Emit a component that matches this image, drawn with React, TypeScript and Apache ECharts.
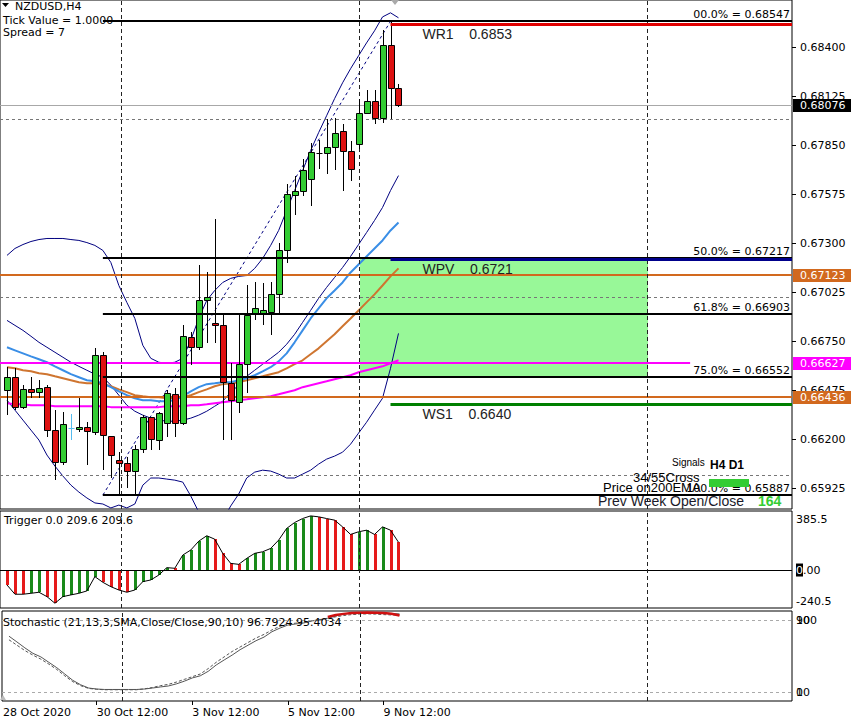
import React, { useEffect, useRef } from "react";
import * as echarts from "echarts";

// ---------------- data ----------------
const opens = [0.66476,0.66549,0.66381,0.66481,0.66465,0.66493,0.66252,0.66072,0.66263,0.66257,0.66268,0.66240,0.66672,0.66218,0.66084,0.66067,0.66022,0.66145,0.66325,0.66196,0.66290,0.66453,0.66291,0.66773,0.66717,0.66980,0.66851,0.66840,0.66515,0.66409,0.66622,0.66902,0.66902,0.66913,0.67014,0.67266,0.67574,0.67597,0.67664,0.67810,0.67810,0.67844,0.67933,0.67821,0.67860,0.68034,0.68101,0.68006,0.68415,0.68174];
const highs = [0.66605,0.66599,0.66504,0.66549,0.66532,0.66504,0.66364,0.66353,0.66341,0.66431,0.66297,0.66711,0.66689,0.66218,0.66128,0.66100,0.66168,0.66336,0.66325,0.66353,0.66476,0.66487,0.66840,0.66801,0.67177,0.67137,0.67440,0.66908,0.66627,0.66896,0.67064,0.67081,0.67076,0.67081,0.67305,0.67636,0.67681,0.67776,0.67866,0.67883,0.68000,0.68006,0.67972,0.67877,0.68113,0.68163,0.68163,0.68499,0.68547,0.68197];
const lows = [0.66336,0.66364,0.66369,0.66431,0.66431,0.66212,0.65971,0.66056,0.66196,0.66240,0.66056,0.66224,0.66027,0.65983,0.65887,0.65927,0.65890,0.66123,0.66140,0.66140,0.66212,0.66212,0.66280,0.66616,0.66700,0.66739,0.66739,0.66196,0.66196,0.66347,0.66459,0.66868,0.66840,0.66784,0.66908,0.67193,0.67457,0.67569,0.67513,0.67720,0.67692,0.67715,0.67597,0.67653,0.67832,0.68028,0.67972,0.67978,0.68000,0.68068];
const closes = [0.66549,0.66381,0.66481,0.66465,0.66487,0.66252,0.66072,0.66285,0.66263,0.66268,0.66246,0.66672,0.66224,0.66112,0.66067,0.66022,0.66145,0.66325,0.66201,0.66347,0.66459,0.66291,0.66779,0.66717,0.66980,0.66997,0.66840,0.66521,0.66420,0.66622,0.66896,0.66935,0.66924,0.67014,0.67266,0.67580,0.67597,0.67710,0.67816,0.67810,0.67844,0.67922,0.67821,0.67720,0.68034,0.68101,0.68006,0.68415,0.68174,0.68076];
const cyanDoji = [8];

const bbUpper = [0.67233,0.67272,0.67294,0.67311,0.67322,0.67328,0.67328,0.67328,0.67322,0.67317,0.67305,0.67289,0.67261,0.67193,0.67064,0.66969,0.66879,0.66728,0.66655,0.66633,0.66627,0.66633,0.66655,0.66756,0.66879,0.66980,0.67036,0.67081,0.67104,0.67115,0.67120,0.67160,0.67216,0.67289,0.67373,0.67485,0.67597,0.67709,0.67821,0.67922,0.68017,0.68113,0.68202,0.68281,0.68354,0.68426,0.68494,0.68572,0.68595,0.68567];
const bbMiddle = [0.66868,0.66840,0.66812,0.66779,0.66745,0.66717,0.66689,0.66661,0.66633,0.66610,0.66588,0.66566,0.66549,0.66504,0.66448,0.66392,0.66358,0.66336,0.66319,0.66308,0.66302,0.66302,0.66308,0.66319,0.66336,0.66358,0.66386,0.66414,0.66465,0.66504,0.66554,0.66588,0.66622,0.66655,0.66689,0.66734,0.66790,0.66857,0.66924,0.66992,0.67053,0.67109,0.67165,0.67227,0.67294,0.67361,0.67429,0.67502,0.67597,0.67681];
const bbLower = [0.66420,0.66364,0.66308,0.66252,0.66196,0.66112,0.66050,0.65994,0.65943,0.65904,0.65871,0.65843,0.65837,0.65815,0.65831,0.65815,0.65837,0.65943,0.65983,0.65983,0.65977,0.65971,0.65960,0.65882,0.65792,0.65747,0.65736,0.65747,0.65826,0.65893,0.65983,0.66016,0.66027,0.66022,0.66005,0.65983,0.65983,0.66005,0.66027,0.66061,0.66089,0.66106,0.66128,0.66173,0.66235,0.66296,0.66364,0.66431,0.66599,0.66795];

const maBlue = [0.66717,0.66700,0.66683,0.66666,0.66650,0.66633,0.66610,0.66588,0.66566,0.66549,0.66532,0.66526,0.66515,0.66493,0.66470,0.66448,0.66431,0.66420,0.66420,0.66414,0.66414,0.66420,0.66442,0.66470,0.66493,0.66510,0.66515,0.66521,0.66521,0.66532,0.66543,0.66560,0.66582,0.66605,0.66638,0.66683,0.66745,0.66812,0.66879,0.66935,0.66992,0.67036,0.67081,0.67137,0.67182,0.67227,0.67272,0.67317,0.67373,0.67418];
const maOrange = [0.66605,0.66599,0.66588,0.66582,0.66571,0.66566,0.66554,0.66543,0.66532,0.66521,0.66515,0.66515,0.66510,0.66498,0.66481,0.66465,0.66448,0.66442,0.66437,0.66437,0.66431,0.66431,0.66437,0.66448,0.66465,0.66481,0.66498,0.66510,0.66515,0.66521,0.66532,0.66543,0.66554,0.66566,0.66577,0.66599,0.66622,0.66644,0.66678,0.66711,0.66751,0.66790,0.66835,0.66879,0.66924,0.66969,0.67014,0.67064,0.67115,0.67160];
const maMagenta = [0.66403,0.66397,0.66397,0.66392,0.66392,0.66392,0.66386,0.66386,0.66386,0.66386,0.66386,0.66386,0.66386,0.66381,0.66381,0.66381,0.66381,0.66381,0.66381,0.66381,0.66386,0.66386,0.66386,0.66392,0.66392,0.66397,0.66403,0.66409,0.66414,0.66420,0.66425,0.66431,0.66437,0.66442,0.66453,0.66465,0.66476,0.66493,0.66504,0.66515,0.66526,0.66538,0.66549,0.66560,0.66577,0.66588,0.66599,0.66610,0.66627,0.66644];

const fibNames = ["00.0%", "50.0%", "61.8%", "75.0%", "100.0%"];
const fibLevels = [0.68547, 0.67217, 0.66903, 0.66552, 0.65887];
const fibStartIdx = 12;
const fibEndIdx = 48;

const pivotNames = ["WR1", "WPV", "WS1"];
const pivotValues = [0.6853, 0.6721, 0.664];
const pivotStartIdx = 48;

const hLineValues = [0.68076, 0.67123, 0.66627, 0.66436];
const hLineStart = [-0.875, -0.875, -0.875, -0.875];
const hLineEnd = [98.25, 98.25, 85.5, 98.25];

const zone = { start: 44.125, end: 80.125, top: 0.6722, bottom: 0.6655 };
const separators = [14.25, 44.125, 80.125];
const gridLevels = [0.66, 0.67, 0.68];

const priceTicks = [0.65925, 0.662, 0.66475, 0.6675, 0.67025, 0.673, 0.67575, 0.6785, 0.68125, 0.684];
const timeLabels = ["28 Oct 2020", "30 Oct 12:00", "3 Nov 12:00", "5 Nov 12:00", "9 Nov 12:00"];
const timeLabelPos = [-0.75, 11, 23, 35, 47];

const triggerValues = [-113,-183,-183,-176,-168,-201,-251,-201,-188,-176,-158,-50,-93,-126,-151,-168,-151,-88,-75,-38,18,13,113,151,218,259,233,126,50,43,88,126,138,163,226,314,359,389,409,402,389,377,326,269,289,301,269,326,301,210];
const triggerColors = ["r","r","r","g","g","r","r","g","g","g","g","g","r","r","r","r","g","g","g","g","g","r","g","g","g","g","r","r","r","r","g","g","g","g","g","g","g","g","g","r","r","r","r","r","g","g","r","g","r","r"];
const triggerTicks = [385.5, 0, -240.5];

const stochMain = [72,65.6,59,53,49,43,37,30,23,18,14.4,13.3,12.8,12.8,12.8,12.8,12.8,13.3,14.4,15.6,16.7,19,22,25.6,28,33,40,45.6,51,57,62,67,71,77,81,84.4,85.6,86.7,89,90,92,94.4,96.7,97.8,98.3,98.3,97.8,97.8,97.2,96.79];
const stochSignal = [68,62,56,51,46.5,41,35,28,21.5,17,14,13,12.5,12.5,12.5,12.5,12.5,13.5,15,17,18.5,21,24,27,30,36,43,49,55,60,65,70,74,79,83,85.5,86.5,87.5,89,90.5,92,93.5,95,96,96.5,96.8,96.5,96,95.6,95.4];
const stochRed = [null,null,null,null,null,null,null,null,null,null,null,null,null,null,null,null,null,null,null,null,null,null,null,null,null,null,null,null,null,null,null,null,null,null,null,null,null,null,null,null,93.5,95.6,96.8,97.8,98.1,98.2,98.1,97.9,97.0,95.0];
const stochLevels = [10, 90];

// ---------------- layout / style constants ----------------
const X_MIN = -0.875;
const X_MAX = 98.25;
const PRICE_MIN = 0.65809;
const PRICE_MAX = 0.68667;
const TRIG_MIN = -287;
const TRIG_MAX = 446;
const AF = "'DejaVu Sans'";
const LF = "'Liberation Sans'";
const GREEN = "#33cc33";
const RED = "#dd1111";
const CYAN = "#55bbee";
const hLineColors = ["#a8a8a8", "#d2691e", "#ff00ff", "#d2691e"];
const hLineWidths = [1, 2, 2, 2];
const hLineBox = ["#000000", "#d2691e", "#ff00ff", "#d2691e"];
const pivotColors = ["#e00000", "#00008b", "#008000"];

function pts(arr: (number | null)[]) {
  return arr.map((v, i) => [i, v]);
}

function buildOption(): any {
  const txt = (text: string, x: number, y: number, font: string, fill = "#000", align = "left") => ({
    type: "text",
    x,
    y,
    z: 100,
    style: { text, font, fill, align, verticalAlign: "middle" },
  });

  const sepLines = separators.map((x) => ({ xAxis: x, lineStyle: { color: "#222", type: [4, 3], width: 1 } }));
  const noLine = { show: false, onZero: false };

  return {
    animation: false,
    backgroundColor: "#ffffff",
    textStyle: { fontFamily: "DejaVu Sans" },
    grid: [
      { left: -1, top: -1, width: 793, height: 510, show: true, borderColor: "#000", borderWidth: 1 },
      { left: -1, top: 511, width: 793, height: 97, show: true, borderColor: "#000", borderWidth: 1 },
      { left: -1, top: 611, width: 793, height: 90, show: true, borderColor: "#000", borderWidth: 1 },
    ],
    xAxis: [
      { gridIndex: 0, type: "value", min: X_MIN, max: X_MAX, show: false, axisLine: noLine },
      { gridIndex: 1, type: "value", min: X_MIN, max: X_MAX, show: false, axisLine: noLine },
      {
        gridIndex: 2,
        type: "value",
        min: X_MIN,
        max: X_MAX,
        position: "bottom",
        axisLine: noLine,
        splitLine: { show: false },
        axisTick: { show: true, customValues: timeLabelPos.slice(1), length: 4, lineStyle: { color: "#000" } },
        axisLabel: {
          customValues: timeLabelPos,
          formatter: (v: number) => {
            const k = timeLabelPos.indexOf(v);
            return k >= 0 ? timeLabels[k] : "";
          },
          align: "left",
          margin: 6,
          fontSize: 11,
          color: "#000",
          fontFamily: "DejaVu Sans",
        },
      },
    ],
    yAxis: [
      {
        gridIndex: 0,
        type: "value",
        position: "right",
        min: PRICE_MIN,
        max: PRICE_MAX,
        axisLine: noLine,
        splitLine: { show: false },
        axisTick: { show: true, customValues: priceTicks, length: 4, lineStyle: { color: "#000" } },
        axisLabel: {
          customValues: priceTicks,
          formatter: (v: number) => v.toFixed(5),
          margin: 8,
          fontSize: 11,
          color: "#000",
          fontFamily: "DejaVu Sans",
        },
      },
      {
        gridIndex: 1,
        type: "value",
        position: "right",
        min: TRIG_MIN,
        max: TRIG_MAX,
        axisLine: noLine,
        splitLine: { show: false },
        axisTick: { show: false },
        axisLabel: {
          customValues: triggerTicks,
          formatter: (v: number) => (v === 0 ? "{b|0}.00" : v.toFixed(1)),
          margin: 4,
          fontSize: 11,
          color: "#000",
          fontFamily: "DejaVu Sans",
          rich: { b: { backgroundColor: "#000", color: "#fff", fontSize: 11, fontFamily: "DejaVu Sans", padding: [1, 0, 1, 0] } },
        },
      },
      {
        gridIndex: 2,
        type: "value",
        position: "right",
        min: 0,
        max: 100,
        axisLine: noLine,
        splitLine: { show: false },
        axisTick: { show: false },
        axisLabel: {
          customValues: stochLevels,
          formatter: (v: number) => String(v),
          margin: 4,
          fontSize: 11,
          color: "#000",
          fontFamily: "DejaVu Sans",
        },
      },
    ],
    series: [
      // green zone rectangle
      {
        type: "custom",
        xAxisIndex: 0,
        yAxisIndex: 0,
        z: 1,
        silent: true,
        data: [[zone.start, zone.end, zone.top, zone.bottom]],
        encode: { x: [0, 1], y: [2, 3] },
        renderItem: (params: any, api: any) => {
          const a = api.coord([api.value(0), api.value(2)]);
          const b = api.coord([api.value(1), api.value(3)]);
          return {
            type: "rect",
            shape: { x: Math.round(a[0]), y: Math.round(a[1]), width: Math.round(b[0] - a[0]), height: Math.round(b[1] - a[1]) },
            style: { fill: "#98f898" },
          };
        },
      },
      // Bollinger bands (with separators + grid levels)
      {
        type: "line",
        xAxisIndex: 0,
        yAxisIndex: 0,
        z: 2,
        silent: true,
        showSymbol: false,
        data: pts(bbUpper),
        lineStyle: { color: "#000080", width: 1 },
        markLine: {
          silent: true,
          symbol: ["none", "none"],
          label: { show: false },
          data: [
            ...sepLines,
            ...gridLevels.map((v) => ({ yAxis: v, lineStyle: { color: "#777", type: [3, 3], width: 1 } })),
          ],
        },
      },
      { type: "line", xAxisIndex: 0, yAxisIndex: 0, z: 2, silent: true, showSymbol: false, data: pts(bbMiddle), lineStyle: { color: "#000080", width: 1 } },
      { type: "line", xAxisIndex: 0, yAxisIndex: 0, z: 2, silent: true, showSymbol: false, data: pts(bbLower), lineStyle: { color: "#000080", width: 1 } },
      // fib trendline (dashed)
      {
        type: "line",
        xAxisIndex: 0,
        yAxisIndex: 0,
        z: 2,
        silent: true,
        showSymbol: false,
        data: [[fibStartIdx, fibLevels[4]], [fibEndIdx, fibLevels[0]]],
        lineStyle: { color: "#000080", width: 1, type: [3, 3] },
      },
      // moving averages
      { type: "line", xAxisIndex: 0, yAxisIndex: 0, z: 3, silent: true, showSymbol: false, data: pts(maMagenta), lineStyle: { color: "#ff00ff", width: 2 } },
      { type: "line", xAxisIndex: 0, yAxisIndex: 0, z: 3, silent: true, showSymbol: false, data: pts(maOrange), lineStyle: { color: "#cf7530", width: 2 } },
      { type: "line", xAxisIndex: 0, yAxisIndex: 0, z: 3, silent: true, showSymbol: false, data: pts(maBlue), lineStyle: { color: "#3a8ee6", width: 2 } },
      // horizontal lines with price boxes
      {
        type: "custom",
        xAxisIndex: 0,
        yAxisIndex: 0,
        z: 4,
        silent: true,
        clip: false,
        data: hLineValues.map((v, i) => [hLineStart[i], hLineEnd[i], v]),
        encode: { x: [0, 1], y: 2 },
        renderItem: (params: any, api: any) => {
          const i = params.dataIndex;
          const v = api.value(2);
          const p1 = api.coord([api.value(0), v]);
          const p2 = api.coord([api.value(1), v]);
          const cs = params.coordSys;
          const right = cs.x + cs.width;
          const w = hLineWidths[i];
          const yr = Math.round(p1[1]);
          const y = w % 2 === 1 ? yr + 0.5 : yr;
          return {
            type: "group",
            children: [
              { type: "line", shape: { x1: Math.max(p1[0], cs.x), y1: y, x2: Math.min(p2[0], right), y2: y }, style: { stroke: hLineColors[i], lineWidth: w } },
              { type: "rect", shape: { x: right + 1, y: yr - 6, width: 58, height: 13 }, style: { fill: hLineBox[i] } },
              { type: "text", x: right + 8, y: yr + 0.5, style: { text: v.toFixed(5), fill: "#fff", font: "11px " + AF, align: "left", verticalAlign: "middle" } },
            ],
          };
        },
      },
      // candles
      {
        type: "custom",
        xAxisIndex: 0,
        yAxisIndex: 0,
        z: 5,
        silent: true,
        data: opens.map((o, i) => [i, o, closes[i], lows[i], highs[i]]),
        encode: { x: 0, y: [1, 2, 3, 4] },
        renderItem: (params: any, api: any) => {
          const i = api.value(0);
          const o = api.value(1);
          const c = api.value(2);
          const pO = api.coord([i, o]);
          const pC = api.coord([i, c]);
          const pL = api.coord([i, api.value(3)]);
          const pH = api.coord([i, api.value(4)]);
          const cx = Math.round(pO[0]) + 0.5;
          const doji = o === c;
          const dojiColor = cyanDoji.indexOf(i) >= 0 ? CYAN : "#000";
          const children: any[] = [
            { type: "line", shape: { x1: cx, y1: Math.round(pH[1]), x2: cx, y2: Math.round(pL[1]) }, style: { stroke: doji ? dojiColor : "#000", lineWidth: 1 } },
          ];
          if (doji) {
            const y = Math.round(pO[1]) + 0.5;
            children.push({ type: "line", shape: { x1: cx - 3, y1: y, x2: cx + 3, y2: y }, style: { stroke: dojiColor, lineWidth: 1 } });
          } else {
            const top = Math.round(Math.min(pO[1], pC[1])) + 0.5;
            const bot = Math.round(Math.max(pO[1], pC[1])) + 0.5;
            children.push({
              type: "rect",
              shape: { x: cx - 3, y: top, width: 6, height: Math.max(bot - top, 1) },
              style: { fill: c > o ? GREEN : RED, stroke: "#000", lineWidth: 1 },
            });
          }
          return { type: "group", children };
        },
      },
      // fibonacci levels
      {
        type: "custom",
        xAxisIndex: 0,
        yAxisIndex: 0,
        z: 6,
        silent: true,
        clip: false,
        data: fibLevels.map((v) => [fibStartIdx, v]),
        encode: { x: 0, y: 1 },
        renderItem: (params: any, api: any) => {
          const i = params.dataIndex;
          const v = api.value(1);
          const p = api.coord([api.value(0), v]);
          const right = params.coordSys.x + params.coordSys.width;
          const y = Math.round(p[1]);
          return {
            type: "group",
            children: [
              { type: "line", shape: { x1: p[0], y1: y, x2: right, y2: y }, style: { stroke: "#000", lineWidth: 2 } },
              { type: "text", x: right - 2, y: y - 7, style: { text: fibNames[i] + " = " + v.toFixed(5), fill: "#000", font: "11px " + AF, align: "right", verticalAlign: "middle" } },
            ],
          };
        },
      },
      // weekly pivots
      {
        type: "custom",
        xAxisIndex: 0,
        yAxisIndex: 0,
        z: 6,
        silent: true,
        clip: false,
        data: pivotValues.map((v) => [pivotStartIdx, v]),
        encode: { x: 0, y: 1 },
        renderItem: (params: any, api: any) => {
          const i = params.dataIndex;
          const v = api.value(1);
          const p = api.coord([api.value(0), v]);
          const right = params.coordSys.x + params.coordSys.width;
          const y = Math.round(p[1]) + 0.5;
          return {
            type: "group",
            children: [
              { type: "line", shape: { x1: p[0], y1: y, x2: right, y2: y }, style: { stroke: pivotColors[i], lineWidth: 3 } },
              { type: "text", x: p[0] + 32, y: y + 9, style: { text: pivotNames[i] + "    " + v.toFixed(4), fill: "#222", font: "14px " + LF, align: "left", verticalAlign: "middle" } },
            ],
          };
        },
      },
      // trigger histogram
      {
        type: "custom",
        xAxisIndex: 1,
        yAxisIndex: 1,
        z: 3,
        silent: true,
        data: pts(triggerValues),
        encode: { x: 0, y: 1 },
        renderItem: (params: any, api: any) => {
          const i = api.value(0);
          const p = api.coord([i, api.value(1)]);
          const z0 = api.coord([i, 0]);
          const cx = Math.round(p[0]);
          const top = Math.round(Math.min(p[1], z0[1]));
          const bot = Math.round(Math.max(p[1], z0[1]));
          return {
            type: "rect",
            shape: { x: cx - 1, y: top, width: 3, height: bot - top },
            style: { fill: triggerColors[params.dataIndex] === "g" ? "#1a8a1a" : "#e61a1a" },
          };
        },
      },
      {
        type: "line",
        xAxisIndex: 1,
        yAxisIndex: 1,
        z: 4,
        silent: true,
        showSymbol: false,
        data: pts(triggerValues),
        lineStyle: { color: "#000", width: 1 },
        markLine: {
          silent: true,
          symbol: ["none", "none"],
          label: { show: false },
          data: [{ yAxis: 0, lineStyle: { color: "#000", type: "solid", width: 1 } }, ...sepLines],
        },
      },
      // stochastic
      {
        type: "line",
        xAxisIndex: 2,
        yAxisIndex: 2,
        z: 3,
        silent: true,
        showSymbol: false,
        data: pts(stochMain),
        lineStyle: { color: "#555", width: 1 },
        markLine: {
          silent: true,
          symbol: ["none", "none"],
          label: { show: false },
          data: [
            ...stochLevels.map((v) => ({ yAxis: v, lineStyle: { color: "#aaa", type: [3, 3], width: 1 } })),
            ...sepLines,
          ],
        },
      },
      { type: "line", xAxisIndex: 2, yAxisIndex: 2, z: 3, silent: true, showSymbol: false, data: pts(stochSignal), lineStyle: { color: "#555", width: 1, type: [3, 2] } },
      { type: "line", xAxisIndex: 2, yAxisIndex: 2, z: 4, silent: true, showSymbol: false, connectNulls: false, data: pts(stochRed), lineStyle: { color: "#d01010", width: 2.5 } },
    ],
    graphic: [
      { type: "polygon", z: 100, shape: { points: [[2, 3], [9, 3], [5.5, 7]] }, style: { fill: "#000" } },
      txt("NZDUSD,H4", 15, 6, "11px " + AF),
      txt("Tick Value = 1.0000", 3, 20, "11px " + AF),
      txt("Spread = 7", 3, 32, "11px " + AF),
      { type: "polygon", z: 100, shape: { points: [[391, 0], [399, 0], [395, 5]] }, style: { fill: "#aaa" } },
      { type: "polygon", z: 100, shape: { points: [[0, 700], [3, 695], [6, 700]] }, style: { fill: "#bbb" } },
      txt("Trigger 0.0 209.6 209.6", 4, 520, "11px " + AF),
      txt("Stochastic (21,13,3,SMA,Close/Close,90,10) 96.7924 95.4034", 3, 622, "11px " + AF),
      txt("100", 796, 620, "11px " + AF),
      txt("0", 796, 692, "11px " + AF),
      { type: "rect", z: 99, shape: { x: 709, y: 479, width: 40, height: 8 }, style: { fill: "#33cc33" } },
      txt("Signals", 672, 462, "10px " + LF),
      txt("H4 D1", 710, 465, "bold 12px " + LF),
      txt("34/55Cross", 633, 477, "13px " + LF),
      txt("Price on200EMA", 603, 487, "13px " + LF),
      txt("Prev Week Open/Close", 598, 501, "14px " + LF, "#1a1a2a"),
      txt("164", 758, 501, "bold 14px " + LF, "#33cc33"),
    ],
  };
}

export default function App() {
  const ref = useRef<HTMLDivElement>(null);
  useEffect(() => {
    const chart = echarts.init(ref.current as HTMLDivElement, null, { renderer: "svg" });
    chart.setOption(buildOption());
    return () => chart.dispose();
  }, []);
  return (
    <div
      ref={ref}
      style={{ position: "fixed", left: 0, top: 0, width: 858, height: 727, background: "#fff" }}
    />
  );
}
